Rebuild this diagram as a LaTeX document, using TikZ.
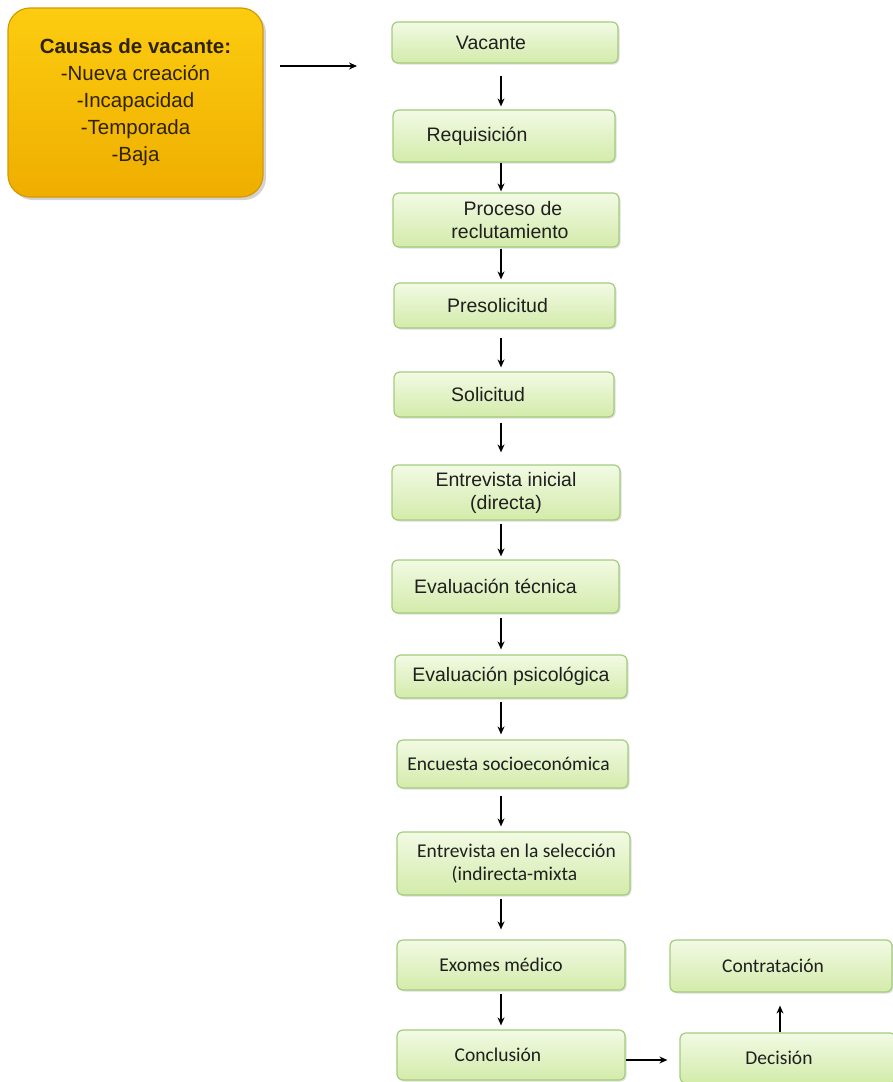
\documentclass[tikz,border=0pt]{standalone}
\usepackage{fontspec}
\setmainfont{Liberation Sans}
\newfontfamily\calib{Carlito}
\usetikzlibrary{arrows.meta,shadows}
\definecolor{gfillT}{HTML}{F2FAE4}
\definecolor{gfillB}{HTML}{D3EBAA}
\definecolor{gdraw}{HTML}{A3CC7C}
\definecolor{yfillT}{HTML}{FCCC10}
\definecolor{yfillB}{HTML}{EFAE00}
\definecolor{ydraw}{HTML}{D49A00}
\definecolor{ytext}{HTML}{2E2200}
\newcommand{\tsh}[1]{\hspace*{#1}}
\tikzset{
  gbox/.style={draw=gdraw, line width=1.2pt, rounded corners=6pt,
    top color=gfillT, bottom color=gfillB, align=center, inner sep=2pt,
    text=black!88, font=\fontsize{19.5}{23}\selectfont,
    drop shadow={shadow xshift=1.5pt, shadow yshift=-1.5pt, opacity=0.25}},
  cbox/.style={gbox, font=\calib\fontsize{19.5}{23}\selectfont},
  ybox/.style={draw=ydraw, line width=1.2pt, rounded corners=22pt,
    top color=yfillT, bottom color=yfillB, align=center, text=ytext,
    font=\fontsize{20.5}{27}\selectfont,
    drop shadow={shadow xshift=3pt, shadow yshift=-3pt, opacity=0.35}},
  arr/.style={-{Stealth[length=8pt,width=7pt]}, line width=1.4pt, black}
}
\begin{document}
\begin{tikzpicture}[x=1pt,y=1pt]
\useasboundingbox (0,0) rectangle (893,-1082);
\node[ybox, minimum width=255, minimum height=189] (causas) at (135.5,-102.5)
  {\textbf{Causas de vacante:}\\-Nueva creación\\-Incapacidad\\-Temporada\\-Baja};
\node[gbox, minimum width=226, minimum height=41] (vac) at (505,-42.5) {\tsh{-28pt}Vacante};
\node[gbox, minimum width=222, minimum height=52] (req) at (504,-136) {\tsh{-54pt}Requisición};
\node[gbox, minimum width=226, minimum height=54] (pro) at (506,-220) {\tsh{14pt}Proceso de\\\tsh{8pt}reclutamiento};
\node[gbox, minimum width=221, minimum height=45] (pre) at (504.5,-305.5) {\tsh{-14pt}Presolicitud};
\node[gbox, minimum width=220, minimum height=45] (sol) at (504,-394.5) {\tsh{-32pt}Solicitud};
\node[gbox, minimum width=228, minimum height=55] (ent) at (506,-492.5) {Entrevista inicial\\(directa)};
\node[gbox, minimum width=227, minimum height=53] (evt) at (505.5,-586.5) {\tsh{-20pt}Evaluación técnica};
\node[gbox, minimum width=232, minimum height=43] (evp) at (511,-676.5) {Evaluación psicológica};
\node[cbox, minimum width=231, minimum height=48] (enc) at (512.5,-764) {\tsh{-8pt}Encuesta socioeconómica};
\node[cbox, minimum width=233, minimum height=63] (ens) at (513.5,-863.5) {\tsh{6pt}Entrevista en la selección\\\tsh{2pt}(indirecta-mixta};
\node[cbox, minimum width=228, minimum height=50] (exo) at (511,-965) {\tsh{-20pt}Exomes médico};
\node[cbox, minimum width=228, minimum height=50] (con) at (511,-1055) {\tsh{-26pt}Conclusión};
\node[cbox, minimum width=222, minimum height=52] (cot) at (781,-966) {\tsh{-16pt}Contratación};
\node[cbox, minimum width=216, minimum height=50] (dec) at (788,-1058) {\tsh{-18pt}Decisión};
\coordinate (col) at (501,0);
\coordinate (as) at (280,-66);
\coordinate (ae) at (357,-66);
\draw[arr] (as) -- (ae);
\draw[arr, shorten <=12pt, shorten >=3pt] (vac.south -| col) -- (req.north -| col);
\draw[arr, shorten <=0pt, shorten >=1pt] (req.south -| col) -- (pro.north -| col);
\draw[arr, shorten <=1pt, shorten >=3pt] (pro.south -| col) -- (pre.north -| col);
\draw[arr, shorten <=9pt, shorten >=4pt] (pre.south -| col) -- (sol.north -| col);
\draw[arr, shorten <=5pt, shorten >=12pt] (sol.south -| col) -- (ent.north -| col);
\draw[arr, shorten <=3pt, shorten >=3pt] (ent.south -| col) -- (evt.north -| col);
\draw[arr, shorten <=4pt, shorten >=5pt] (evt.south -| col) -- (evp.north -| col);
\draw[arr, shorten <=3pt, shorten >=5pt] (evp.south -| col) -- (enc.north -| col);
\draw[arr, shorten <=7pt, shorten >=5pt] (enc.south -| col) -- (ens.north -| col);
\draw[arr, shorten <=3pt, shorten >=10pt] (ens.south -| col) -- (exo.north -| col);
\draw[arr, shorten <=3pt, shorten >=4pt] (exo.south -| col) -- (con.north -| col);
\draw[arr, shorten <=0pt, shorten >=12pt] (con.east |- 0,-1060) -- (dec.west |- 0,-1060);
\draw[arr, shorten <=0pt, shorten >=13pt] (dec.north -| 780,0) -- (cot.south -| 780,0);
\end{tikzpicture}
\end{document}
